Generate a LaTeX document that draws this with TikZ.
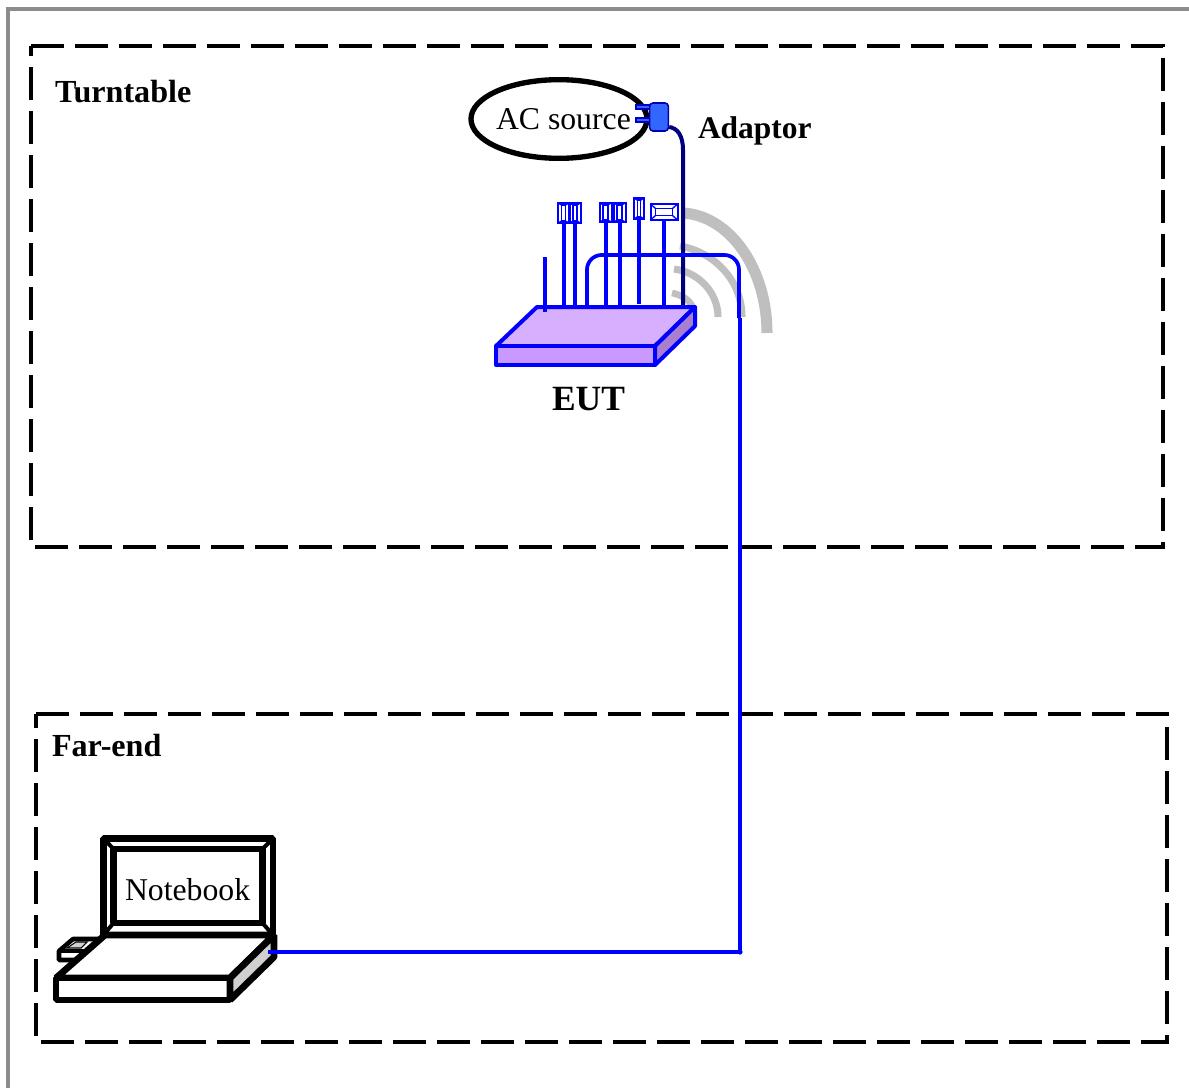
\documentclass[tikz,border=0pt]{standalone}
\usepackage{fontspec}
\setmainfont{Liberation Serif}
\usetikzlibrary{shapes.geometric}
\definecolor{navycable}{HTML}{00007F}
\definecolor{wifigray}{HTML}{BFBFBF}
\definecolor{plugblue}{HTML}{3366FF}
\definecolor{rtop}{HTML}{D6B0FF}
\definecolor{rfront}{HTML}{C999FF}
\definecolor{rside}{HTML}{A87FD0}
\definecolor{lapgray}{HTML}{D0D0D0}
\definecolor{bordergray}{HTML}{8C8C8C}
\tikzset{
  px/.style={x=0.75pt,y=-0.75pt},
  frame/.style={draw=black,line width=3.4pt,dash pattern=on 24.5pt off 8.5pt},
  lbl/.style={inner sep=0pt,outer sep=0pt,anchor=base west,font=\fontsize{23.8}{26}\selectfont},
  lblb/.style={lbl,font=\fontsize{24.1}{26}\selectfont\bfseries},
  cable/.style={draw=blue,line width=3pt},
  wave/.style={draw=wifigray},
  rbody/.style={draw=blue,line width=3pt,line join=round},
  lap/.style={draw=black,line width=5pt,line join=bevel},
  lapthin/.style={draw=black,line width=3pt},
  connbox/.style={draw=blue,line width=1.5pt,fill=white,inner sep=0pt,outer sep=0pt,minimum width=#1*0.75pt},
  connbox/.default=12,
}
\newcommand{\bevel}[3]{% node name, x inset, y inset (in px)
  \draw[blue,line width=1.1pt] ([xshift=#2*0.75pt,yshift=-#3*0.75pt]#1.north west) rectangle ([xshift=-#2*0.75pt,yshift=#3*0.75pt]#1.south east);
  \draw[blue,line width=1pt] (#1.north west) -- ++(#2*0.75pt,-#3*0.75pt) (#1.north east) -- ++(-#2*0.75pt,-#3*0.75pt)
     (#1.south west) -- ++(#2*0.75pt,#3*0.75pt) (#1.south east) -- ++(-#2*0.75pt,#3*0.75pt);
}
\begin{document}
\begin{tikzpicture}[px]
\useasboundingbox (0,0) rectangle (1189,1088);
% outer border
\draw[bordergray,line width=2.8pt] (8,1088) -- (8,9) -- (1189,9);
% dashed regions
\draw[frame] (31,46) -- (1163,46) -- (1163,547) -- (31,547) -- (31,46);
\draw[frame] (36,714) -- (1167,714) -- (1167,1042) -- (36,1042) -- (36,714);
\node[lblb] (turntable) at (55,103) {Turntable};
\node[lblb] (farend) at (52,756) {Far-end};
\node[lblb,font=\fontsize{23.6}{26}\selectfont\bfseries] (adaptorlbl) at (698,138) {Adaptor};
% wifi waves
\draw[wave,line width=8.3pt] (683,213) .. controls (731,216) and (767,270) .. (767,333);
\draw[wave,line width=5.3pt] (680,246) .. controls (714,252) and (742,280) .. (742,317);
\draw[wave,line width=5.3pt] (674,269) .. controls (698,272) and (718,292) .. (718,317);
\draw[wave,line width=5pt] (672,293) .. controls (682,295) and (690,300) .. (693,308);
% AC source
\node[ellipse,draw=black,line width=4pt,minimum width=132pt,minimum height=59pt,inner sep=0pt] (ac) at (559,119) {};
\node[lbl] (aclbl) at (496,129) {AC source};
% adaptor
\draw[draw=blue!80!black,fill=plugblue,line width=1pt] (636,105) rectangle (651,109) (636,118) rectangle (651,122);
\node[draw=blue!70!black,fill=plugblue,line width=1.2pt,rounded corners=2.5pt,minimum width=14pt,minimum height=21pt,inner sep=0pt] (adaptor) at (659,117) {};
% router coordinates
\coordinate (ra) at (537,307);
\coordinate (rb) at (695,307);
\coordinate (rc) at (655,346);
\coordinate (rd) at (496,346);
\coordinate (re) at (496,365);
\coordinate (rf) at (655,365);
\coordinate (rg) at (695,326);
% navy supply cable
\coordinate (cableTop) at (683,150);
\draw[navycable,line width=3pt] (adaptor.east |- 0,127) .. controls (677,128) and (683,135) .. (cableTop) -- (cableTop |- ra);
% connector heads
\node[connbox=11,minimum height=15pt] (c1) at (563.5,213) {};
\node[connbox=11,minimum height=15pt] (c2) at (575,213) {};
\node[connbox=12,minimum height=14.5pt] (c3) at (605.5,212.5) {};
\node[connbox=12,minimum height=14.5pt] (c4) at (619.5,212.5) {};
\node[connbox=9.5,minimum height=15.5pt] (c5) at (639,208.5) {};
\node[connbox=27,minimum height=12pt] (c6) at (664,212) {};
\bevel{c1}{3.5}{2}\bevel{c2}{3.5}{2}\bevel{c3}{3.5}{2}\bevel{c4}{3.5}{2}\bevel{c5}{3}{2}\bevel{c6}{5}{4.5}
% EUT cables
\foreach \n in {c1,c2,c3,c4,c6} \draw[cable] (\n.south) -- (\n.south |- ra);
\draw[cable] (c5.south) -- (c5.south |- 0,304);
\coordinate (ant) at (545,257);
\draw[cable,line width=2.4pt] (ant) -- (ant |- 0,312);
% main cable
\coordinate (lanA) at (587,307);
\coordinate (lanB) at (587,255);
\coordinate (lanC) at (739,255);
\coordinate (lanD) at (739,318);
\coordinate (lanE) at (740,318);
\coordinate (lanF) at (740,952);
\coordinate (lanG) at (268,952);
% router body
\draw[rbody,fill=rtop] (ra) -- (rb) -- (rc) -- (rd) -- cycle;
\draw[rbody,fill=rfront] (rd) -- (rc) -- (rf) -- (re) -- cycle;
\draw[rbody,fill=rside] (rc) -- (rb) -- (rg) -- (rf) -- cycle;
\draw[cable,line width=2.4pt] (ant |- 0,300) -- (ant |- 0,312);
\node[lblb,font=\fontsize{26.6}{30}\selectfont\bfseries] (eut) at (552,410) {EUT};
% laptop screen
\draw[lap,fill=white] (103.5,838.5) rectangle (273,935);
\draw[lap,fill=white] (113.5,849) rectangle (262.5,923);
\draw[lapthin] (103.5,838.5) -- (113.5,849) (273,838.5) -- (262.5,849) (103.5,935) -- (113.5,923) (273,935) -- (262.5,923);
\node[lbl] (nblbl) at (125,900) {Notebook};
% dongle
\draw[draw=black,line width=3.4pt,fill=white,line join=bevel] (59,951) -- (73,939) -- (110,939) -- (85,960) -- (59,960) -- cycle;
\draw[black,line width=2.6pt] (59,951) -- (90,951);
\draw[black,line width=.8pt,fill=lapgray] (67,948) -- (76,942) -- (87,942) -- (81,948) -- cycle;
% laptop base
\coordinate (la) at (105,935);
\coordinate (lb) at (274,935);
\coordinate (lc) at (230,978);
\coordinate (ld) at (56,978);
\coordinate (le) at (56,1000);
\coordinate (lf) at (230,1000);
\coordinate (lg) at (274,957);
\draw[lap,fill=white] (la) -- (lb) -- (lc) -- (ld) -- cycle;
\draw[lap,fill=white] (ld) -- (lc) -- (lf) -- (le) -- cycle;
\draw[lap,fill=lapgray] (lc) -- (lb) -- (lg) -- (lf) -- cycle;
% LAN cable
\draw[cable,line width=2.8pt,rounded corners=11pt] (lanA) -- (lanB) -- (lanC) -- (lanD);
\draw[cable,line width=2.8pt] (lanE) -- (lanF) -- (lanG);
\fill[blue] (lanF) circle (2.6);
\end{tikzpicture}
\end{document}
